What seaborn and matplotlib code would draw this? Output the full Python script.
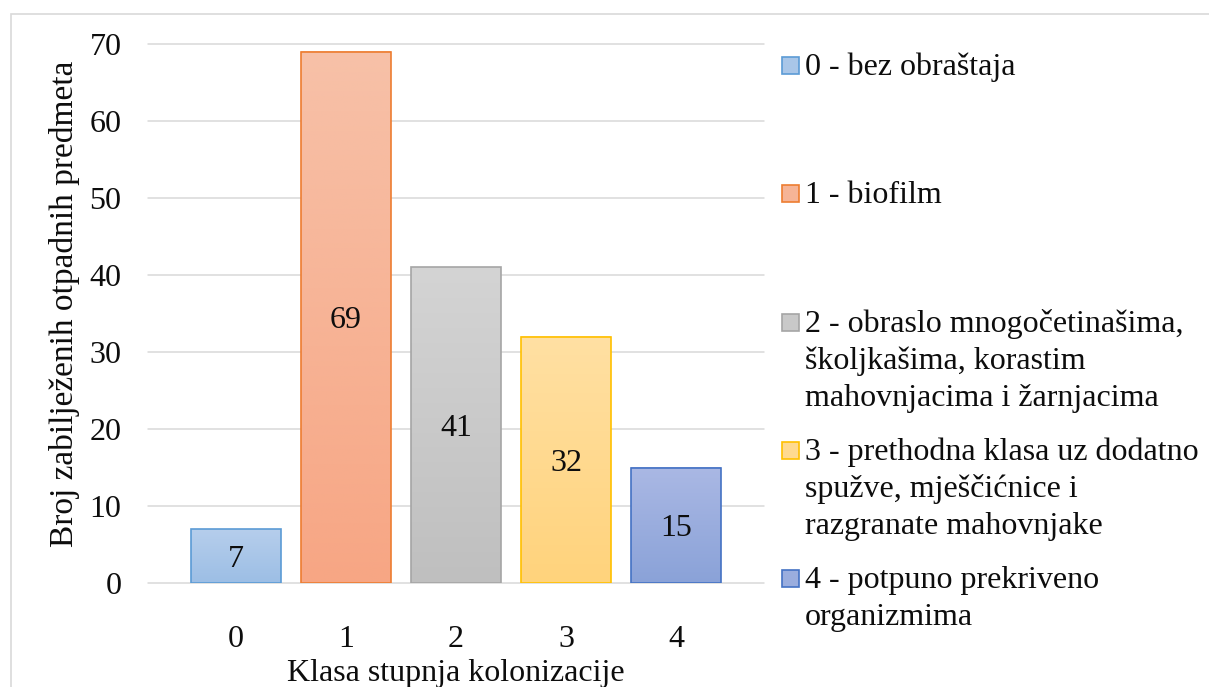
import numpy as np
import pandas as pd
import matplotlib
matplotlib.use("Agg")
import matplotlib.pyplot as plt
from matplotlib.colors import LinearSegmentedColormap
from matplotlib.patches import Rectangle
import seaborn as sns

# --- data -------------------------------------------------------------
classes = ["0", "1", "2", "3", "4"]
counts = [7, 69, 41, 32, 15]
class_labels = [
    "0 - bez obraštaja",
    "1 - biofilm",
    "2 - obraslo mnogočetinašima,\nškoljkašima, korastim\nmahovnjacima i žarnjacima",
    "3 - prethodna klasa uz dodatno\nspužve, mješčićnice i\nrazgranate mahovnjake",
    "4 - potpuno prekriveno\norganizmima",
]
x_title = "Klasa stupnja kolonizacije"
y_title = "Broj zabilježenih otpadnih predmeta"

# --- styling -----------------------------------------------------------
edge_colors = ["#5B9BD5", "#ED7D31", "#A5A5A5", "#FFC000", "#4472C4"]
top_colors = ["#B6CEEC", "#F7C1A8", "#D4D4D4", "#FFE0A3", "#AAB8E4"]
bottom_colors = ["#9CBEE5", "#F7A684", "#BFBFBF", "#FFD37C", "#8AA2D8"]
mid_colors = ["#A9C6E8", "#F6B496", "#C9C9C9", "#FFDA90", "#9AADDE"]

sns.set_theme(style="white")
plt.rcParams["font.family"] = ["Liberation Serif", "DejaVu Serif"]
FS = 23
TEXT = "#0D0D0D"

W, H = 1209, 687
fig = plt.figure(figsize=(W / 100, H / 100), dpi=100)
fig.patch.set_facecolor("white")


def fx(px):
    return px / W


def fy(py):
    return 1 - py / H


ax = fig.add_axes([fx(148), fy(583), fx(764) - fx(148), fy(44) - fy(583)])

df = pd.DataFrame({"klasa": classes, "broj": counts})
sns.barplot(
    data=df, x="klasa", y="broj", hue="klasa", order=classes, hue_order=classes,
    palette=dict(zip(classes, mid_colors)), width=0.81, legend=False, ax=ax,
    saturation=1,
)

# vertical gradient fill in every bar, keeping the outlined patch on top
bars = [p for c in ax.containers for p in c]
for bar, top, bot, edge in zip(bars, top_colors, bottom_colors, edge_colors):
    x0, y0 = bar.get_x(), bar.get_y()
    w, h = bar.get_width(), bar.get_height()
    cmap = LinearSegmentedColormap.from_list("g", [bot, top])
    grad = np.linspace(0, 1, 256).reshape(-1, 1)
    ax.imshow(grad, cmap=cmap, extent=[x0, x0 + w, y0, y0 + h],
              origin="lower", aspect="auto", zorder=1.5, interpolation="bicubic")
    bar.set_facecolor("none")
    bar.set_edgecolor(edge)
    bar.set_linewidth(1.2)
    bar.set_zorder(2)

for cont in ax.containers:
    for t in ax.bar_label(cont, label_type="center", fontsize=FS, color=TEXT):
        t.set_verticalalignment("center_baseline")

ax.set_xlim(-0.8, 4.8)
ax.set_ylim(0, 70)
ax.set_yticks(range(0, 71, 10))
ax.yaxis.grid(True, color="#D9D9D9", linewidth=1.1)
ax.xaxis.grid(False)
for gl in ax.get_ygridlines():
    gl.set_clip_on(False)
ax.set_axisbelow(True)
for s in ax.spines.values():
    s.set_visible(False)

ax.tick_params(axis="both", length=0, labelsize=FS, colors=TEXT)
ax.tick_params(axis="y", pad=19)
ax.tick_params(axis="x", pad=30)
ax.set_xlabel(x_title, fontsize=FS, labelpad=4, color=TEXT)
ax.set_ylabel(y_title, fontsize=24, labelpad=4, color=TEXT)
ax.yaxis.set_label_coords(-0.11, (583 - 304) / (583 - 44))

# legend: square swatch next to the first line of each multi-line entry
baselines = [75, 203, 332, 460, 588]
line_pitch = 36.8
for lab, yb, fc, ec in zip(class_labels, baselines, mid_colors, edge_colors):
    fig.patches.append(Rectangle((fx(782), fy(yb - 1)), fx(17), fy(0) - fy(17),
                                 transform=fig.transFigure, facecolor=fc,
                                 edgecolor=ec, linewidth=1.2))
    for k, line in enumerate(lab.split("\n")):
        fig.text(fx(805), fy(yb + k * line_pitch), line, fontsize=FS,
                 va="baseline", ha="left", color=TEXT)

# outer frame
fig.patches.append(Rectangle((fx(11), -0.05), 1.2, fy(13.5) + 0.05,
                             transform=fig.transFigure, fill=False,
                             edgecolor="#D9D9D9", linewidth=1.2))

fig.savefig("out.png", dpi=100)
